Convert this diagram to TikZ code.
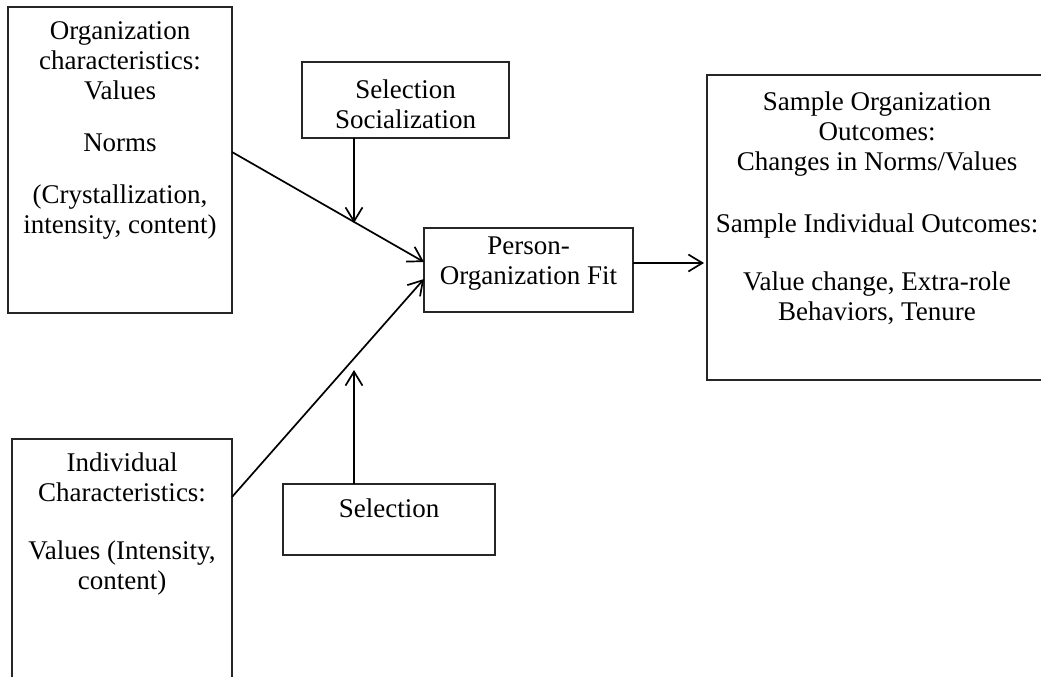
\documentclass[tikz,border=0pt]{standalone}
\usepackage{fontspec}
\setmainfont{Liberation Serif}
\usetikzlibrary{arrows.meta}
\begin{document}
\begin{tikzpicture}[x=1pt,y=-1pt,
  boxnode/.style={draw=black!85,line width=1.3pt,inner sep=0pt,outer sep=0pt,rectangle},
  txt/.style={align=center,inner sep=0pt,font=\fontsize{27}{30}\selectfont},
  conn/.style={line width=1.7pt,-{Straight Barb[length=14pt,width=17pt,line width=1.7pt]}}]
\useasboundingbox (0,0) rectangle (1041,677);
\fill[white] (0,0) rectangle (1041,677);
\clip (0,0) rectangle (1041,677);
% boxes
\node[boxnode,minimum width=224pt,minimum height=306pt] (tl) at (120,160) {};
\node[boxnode,minimum width=220pt,minimum height=261pt] (bl) at (122,569.5) {};
\node[boxnode,minimum width=353pt,minimum height=305pt] (ro) at (883.5,227.5) {};
\node[boxnode,minimum width=207pt,minimum height=76pt] (ss) at (405.5,100) {};
\node[boxnode,minimum width=209pt,minimum height=84pt] (po) at (528.5,270) {};
\node[boxnode,minimum width=212pt,minimum height=71pt] (sel) at (389,519.5) {};
% texts
\node[txt] (tl1) at (120,61) {Organization\\characteristics:\\Values};
\node[txt] (tl2) at (120,143) {Norms};
\node[txt] (tl3) at (120,212) {(Crystallization,\\intensity, content)};
\node[txt] (bl1) at (122,477.5) {Individual\\Characteristics:};
\node[txt] (bl2) at (122,568) {Values (Intensity,\\content)};
\node[txt] (ro1) at (877,134.5) {Sample Organization\\Outcomes:\\Changes in Norms/Values};
\node[txt] (ro2) at (877,226) {Sample Individual Outcomes:};
\node[txt] (ro3) at (877,298) {Value change, Extra-role\\Behaviors, Tenure};
\node[txt] (ss1) at (405.5,104) {Selection\\Socialization};
\node[txt] (po1) at (528.5,263.5) {Person-\\Organization Fit};
\node[txt] (sel1) at (389,508) {Selection};
% connector end points
\coordinate (m1) at (354,223);
\coordinate (m2) at (354,370);
% connectors
\draw[conn] ([yshift=8pt]tl.east) -- ([yshift=8pt]po.west);
\draw[conn] ([yshift=72.5pt]bl.east) -- ([yshift=-9pt]po.west);
\draw[conn] ([xshift=-51.5pt]ss.south) -- (m1);
\draw[conn] ([xshift=-35pt]sel.north) -- (m2);
\draw[conn,shorten >=3pt] ([yshift=7pt]po.east) -- ([yshift=7pt]po.east -| ro.west);
\end{tikzpicture}
\end{document}
